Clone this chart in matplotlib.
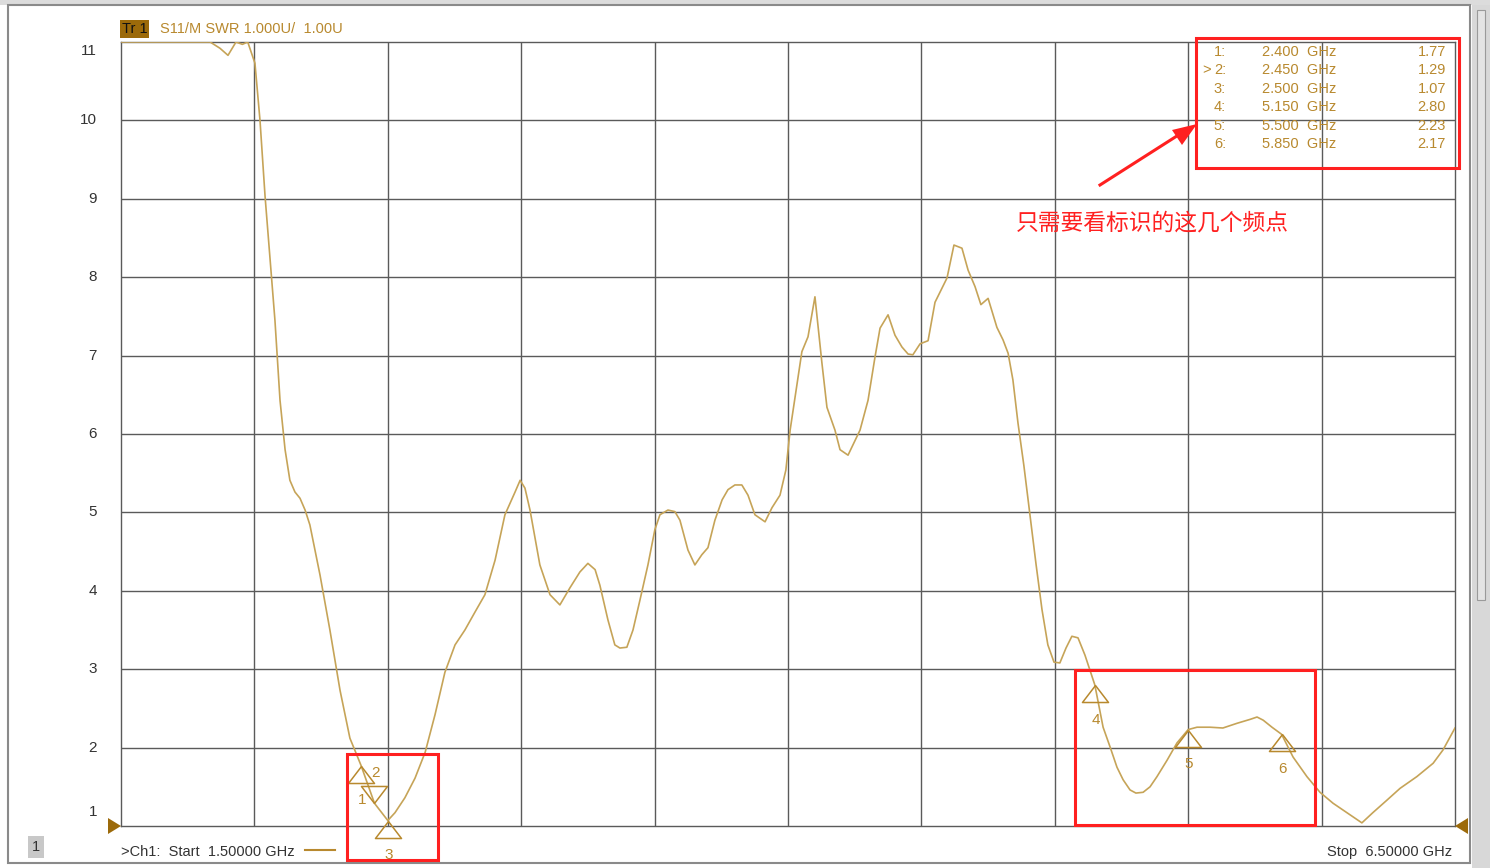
import matplotlib
matplotlib.use("Agg")
from matplotlib import pyplot as plt
from matplotlib.patches import Rectangle, Polygon

plt.rcParams['font.family'] = ['Liberation Sans', 'Noto Sans CJK SC', 'DejaVu Sans']

# S11 SWR trace (GHz, SWR)
freq = [1.50, 1.80, 1.834, 1.871, 1.901, 1.931, 1.955, 1.975, 2.002, 2.021,
        2.040, 2.050, 2.077, 2.096, 2.115, 2.133, 2.152, 2.171, 2.190, 2.208,
        2.246, 2.283, 2.321, 2.358, 2.400, 2.450, 2.500, 2.527, 2.564, 2.602,
        2.640, 2.677, 2.714, 2.752, 2.789, 2.827, 2.864, 2.902, 2.939, 2.977,
        2.996, 3.014, 3.033, 3.070, 3.108, 3.145, 3.183, 3.220, 3.250, 3.277,
        3.295, 3.325, 3.351, 3.370, 3.396, 3.419, 3.445, 3.475, 3.501, 3.520,
        3.550, 3.576, 3.595, 3.625, 3.651, 3.677, 3.700, 3.726, 3.753, 3.775,
        3.801, 3.827, 3.850, 3.876, 3.914, 3.940, 3.970, 3.992, 4.008, 4.052,
        4.075, 4.101, 4.127, 4.146, 4.176, 4.195, 4.225, 4.270, 4.300, 4.326,
        4.345, 4.375, 4.401, 4.427, 4.450, 4.468, 4.495, 4.525, 4.551, 4.577,
        4.596, 4.622, 4.652, 4.675, 4.701, 4.723, 4.750, 4.783, 4.806, 4.825,
        4.843, 4.862, 4.884, 4.907, 4.930, 4.952, 4.974, 4.997, 5.019, 5.042,
        5.064, 5.087, 5.113, 5.150, 5.181, 5.207, 5.233, 5.256, 5.282, 5.304,
        5.331, 5.357, 5.383, 5.421, 5.458, 5.500, 5.533, 5.582, 5.630, 5.683,
        5.732, 5.758, 5.781, 5.814, 5.850, 5.893, 5.945, 5.994, 6.043, 6.095,
        6.151, 6.192, 6.245, 6.294, 6.357, 6.418, 6.455, 6.500]
swr = [11.0, 11.0, 11.0, 10.92, 10.83, 11.0, 10.97, 11.0, 10.73, 10.0,
       9.03, 8.60, 7.45, 6.43, 5.80, 5.41, 5.26, 5.18, 5.03, 4.84,
       4.20, 3.50, 2.73, 2.12, 1.77, 1.29, 1.07, 1.17, 1.36, 1.61,
       1.94, 2.42, 2.96, 3.31, 3.50, 3.73, 3.95, 4.39, 4.97, 5.26,
       5.41, 5.31, 5.03, 4.33, 3.95, 3.82, 4.04, 4.24, 4.35, 4.27,
       4.07, 3.63, 3.31, 3.27, 3.28, 3.50, 3.88, 4.33, 4.78, 4.97,
       5.03, 5.01, 4.90, 4.52, 4.33, 4.46, 4.55, 4.90, 5.16, 5.29,
       5.35, 5.35, 5.22, 4.97, 4.88, 5.06, 5.22, 5.54, 6.05, 7.05,
       7.24, 7.75, 6.91, 6.34, 6.05, 5.80, 5.73, 6.05, 6.43, 6.98,
       7.35, 7.52, 7.26, 7.11, 7.02, 7.01, 7.15, 7.19, 7.68, 7.86,
       7.99, 8.41, 8.37, 8.09, 7.88, 7.65, 7.73, 7.36, 7.20, 7.03,
       6.69, 6.14, 5.60, 4.97, 4.33, 3.76, 3.31, 3.09, 3.08, 3.27,
       3.42, 3.40, 3.18, 2.80, 2.26, 2.01, 1.75, 1.59, 1.46, 1.42,
       1.43, 1.50, 1.63, 1.84, 2.06, 2.23, 2.26, 2.26, 2.25, 2.31,
       2.36, 2.39, 2.35, 2.26, 2.17, 1.88, 1.63, 1.43, 1.29, 1.17,
       1.04, 1.17, 1.33, 1.48, 1.63, 1.80, 1.97, 2.25]

# markers
mk_num = ['1', '2', '3', '4', '5', '6']
mk_freq = [2.400, 2.450, 2.500, 5.150, 5.500, 5.850]
mk_swr = [1.77, 1.29, 1.07, 2.80, 2.23, 2.17]
active_marker = '2'

yticks = [11, 10, 9, 8, 7, 6, 5, 4, 3, 2, 1]

trace_col = '#C6A458'
gold = '#B8892E'
red = '#FF2020'
grid_col = '#5a5a5a'

W, H = 1490, 868
fig = plt.figure(figsize=(W / 100, H / 100), dpi=100)

def fx(px):
    return px / W

def fy(py):
    return 1 - py / H

# window frame
fig.patches.append(Rectangle((fx(1472), 0), fx(W - 1472), 1, transform=fig.transFigure,
                             facecolor='#d8d8d8', edgecolor='none', zorder=0))
fig.patches.append(Rectangle((0, fy(5)), 1, 5 / H, transform=fig.transFigure,
                             facecolor='#dcdcdc', edgecolor='none', zorder=0))
fig.patches.append(Rectangle((fx(8), fy(863)), fx(1462), 858 / H, transform=fig.transFigure,
                             facecolor='none', edgecolor='#8a8a8a', lw=1.5, zorder=1))
fig.patches.append(Rectangle((fx(1477), fy(600)), fx(8), 590 / H, transform=fig.transFigure,
                             facecolor='#e4e4e4', edgecolor='#9a9a9a', lw=0.8, zorder=1))

ax = fig.add_axes([fx(121), fy(826), fx(1455 - 121), 784 / H])
ax.set_xlim(1.5, 6.5)
ax.set_ylim(1, 11)
for v in [1.5 + 0.5 * i for i in range(1, 10)]:
    ax.axvline(v, color=grid_col, lw=1.0, zorder=1)
for v in range(2, 11):
    ax.axhline(v, color=grid_col, lw=1.0, zorder=1)
for s in ax.spines.values():
    s.set_color(grid_col)
    s.set_linewidth(1.0)
ax.set_xticks([])
ax.set_yticks([])

ax.plot(freq, swr, color=trace_col, lw=1.2, zorder=3, solid_joinstyle='round')

# y labels
for t in yticks:
    yy = t
    if t == 11:
        yy = 10.88
    if t == 1:
        yy = 1.18
    ax.text(-0.018, (yy - 1) / 10, str(t), transform=ax.transAxes, ha='right', va='center',
            fontsize=11, color='#333333')

# marker triangles with apex on trace
up = [(0, 0), (-0.765, -1), (0.765, -1), (0, 0)]
down = [(0, 0), (-0.765, 1), (0.765, 1), (0, 0)]
for n, f, s in zip(mk_num, mk_freq, mk_swr):
    if n == active_marker:
        ax.plot(f, s, marker=down, ms=24.5, mfc='none', mec=gold, mew=1.1,
                clip_on=False, zorder=4)
        ax.annotate(n, (f, s), xytext=(0.5, 22), textcoords='offset points',
                    ha='center', va='center', fontsize=11, color=gold, annotation_clip=False)
    else:
        ax.plot(f, s, marker=up, ms=24.5, mfc='none', mec=gold, mew=1.1,
                clip_on=False, zorder=4)
        ax.annotate(n, (f, s), xytext=(0.5, -25), textcoords='offset points',
                    ha='center', va='center', fontsize=11, color=gold, annotation_clip=False)

# marker table
row0 = 52
for i, (n, f, s) in enumerate(zip(mk_num, mk_freq, mk_swr)):
    yy = fy(row0 + i * 18.4)
    fig.text(fx(1226), yy, n + ':', ha='right', va='center', fontsize=10.5, color=gold)
    if n == active_marker:
        fig.text(fx(1211), yy, '>', ha='right', va='center', fontsize=10.5, color=gold)
    fig.text(fx(1262), yy, '%.3f  GHz' % f, ha='left', va='center', fontsize=10.5, color=gold)
    fig.text(fx(1446), yy, '%.2f' % s, ha='right', va='center', fontsize=10.5, color=gold)

# header
fig.text(fx(122), fy(29), 'Tr 1', ha='left', va='center', fontsize=10.5, color='#111111',
         bbox=dict(boxstyle='square,pad=0.12', facecolor='#9C6A0A', edgecolor='none'))
fig.text(fx(160), fy(29), 'S11/M SWR 1.000U/  1.00U', ha='left', va='center',
         fontsize=10.5, color=gold)

# footer
fig.text(fx(121), fy(852), '>Ch1:  Start  1.50000 GHz', ha='left', va='center',
         fontsize=10.5, color='#333333')
fig.lines.append(plt.Line2D([fx(305), fx(335)], [fy(850), fy(850)], transform=fig.transFigure,
                            color=gold, lw=1.5))
fig.text(fx(1452), fy(852), 'Stop  6.50000 GHz', ha='right', va='center',
         fontsize=10.5, color='#333333')
fig.text(fx(36), fy(847), '1', ha='center', va='center', fontsize=10.5, color='#333333',
         bbox=dict(boxstyle='square,pad=0.3', facecolor='#c8c8c8', edgecolor='none'))

# reference level arrows
tri_col = '#9C6A0A'
fig.patches.append(Polygon([(fx(121), fy(826)), (fx(108), fy(818)), (fx(108), fy(834))],
                           closed=True, transform=fig.transFigure, facecolor=tri_col,
                           edgecolor='none', zorder=5))
fig.patches.append(Polygon([(fx(1455), fy(826)), (fx(1468), fy(818)), (fx(1468), fy(834))],
                           closed=True, transform=fig.transFigure, facecolor=tri_col,
                           edgecolor='none', zorder=5))

# red annotations
for (x0, y0, x1, y1) in [(1196, 38, 1459, 168), (347, 754, 438, 860), (1075, 670, 1315, 825)]:
    fig.patches.append(Rectangle((fx(x0), fy(y1)), fx(x1 - x0), (y1 - y0) / H,
                                 transform=fig.transFigure, facecolor='none',
                                 edgecolor=red, lw=2.2, zorder=6))
fig.add_artist(plt.Line2D([fx(1100), fx(1180)], [fy(185), fy(134)], transform=fig.transFigure,
                          color=red, lw=2.2, zorder=6))
fig.patches.append(Polygon([(fx(1197), fy(124)), (fx(1172), fy(130)), (fx(1182), fy(145))],
                           closed=True, transform=fig.transFigure, facecolor=red,
                           edgecolor='none', zorder=6))
fig.text(fx(1016), fy(223), '只需要看标识的这几个频点', ha='left', va='center', fontsize=16.4,
         color=red, family=['Noto Sans CJK SC', 'DejaVu Sans'])

fig.savefig('out.png', dpi=100)
